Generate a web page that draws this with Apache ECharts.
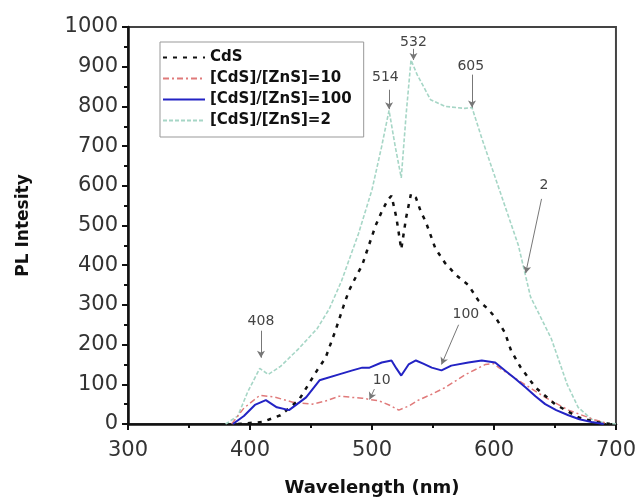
<!DOCTYPE html>
<html><head><meta charset="utf-8">
<script src="https://cdn.jsdelivr.net/npm/echarts@6/dist/echarts.min.js"></script>
<style>html,body{margin:0;padding:0;background:#fff}#c{width:639px;height:502px}</style>
</head><body><div id="c"></div>
<script>
// ---- data ----
const cdsX = [390,410,425,440,455,462,470,477,481,487,492,496,503,508,513,516,520,524,528,532,536,540,544,552,560,569,579,587,595,602,609,614,622,634,650,669,683,695];
const cdsY = [0,5,22,60,135,167,235,300,335,372,400,437,500,535,565,575,520,440,520,580,570,535,510,442,405,375,350,312,290,265,230,185,142,92,50,17,5,0];
const r10X = [385,395,408,420,435,451,462,473,484,492,506,514,522,530,538,549,560,577,593,600,604,620,642,661,683,695];
const r10Y = [0,40,72,68,55,50,58,70,67,65,58,48,35,45,60,75,92,125,150,152,142,110,67,35,10,0];
const r100X = [386,395,404,413,422,432,446,457,473,484,492,498,508,516,520,524,530,536,542,549,557,565,579,590,601,609,617,626,634,642,651,661,670,680,690];
const r100Y = [0,20,48,60,42,35,67,110,125,135,142,142,155,160,140,122,150,160,152,142,135,147,155,160,155,135,115,92,70,50,35,22,12,5,0];
const r2X = [380,390,398,408,415,425,440,455,465,475,489,500,508,514,519,524,528,532,537,548,560,576,582,590,600,610,620,630,647,660,669,680,690,700];
const r2Y = [0,20,80,140,125,145,190,240,290,360,480,590,700,790,700,620,780,917,880,817,800,795,797,720,630,540,450,320,215,100,42,12,3,0];
const seriesNames = ['CdS','[CdS]/[ZnS]=10','[CdS]/[ZnS]=100','[CdS]/[ZnS]=2'];
// annotations: text, text position, arrow start, arrow end (data units)
const noteText = ['408','514','532','605','2','100','10'];
const noteTextPos = [[409,258],[511,872],[534,962],[581,900],[641,600],[577,275],[508,110]];
const noteFrom = [[409,235],[514,842],[534,945],[582,880],[639,567],[571,250],[502,88]];
const noteTo = [[409,167],[514,793],[534,917],[582,797],[626,380],[557,150],[498,62]];

const zip = (xs, ys) => xs.map((x, i) => [x, ys[i]]);
const chart = echarts.init(document.getElementById('c'));
const tickFont = {fontFamily:'DejaVu Sans', fontSize:21, color:'#333'};
chart.setOption({
  animation:false,
  backgroundColor:'#fff',
  grid:{left:128, top:27, width:490, height:400, show:true, borderColor:'#444', borderWidth:2},
  legend:{
    data:seriesNames, orient:'vertical', left:160, top:42,
    itemWidth:42, itemHeight:10, itemGap:6,
    padding:[8,12,9,2], borderColor:'#999', borderWidth:1,
    itemStyle:{opacity:0},
    textStyle:{fontFamily:'DejaVu Sans', fontWeight:'bold', fontSize:15, color:'#111'}
  },
  xAxis:{
    type:'value', min:300, max:700, interval:100,
    name:'Wavelength (nm)', nameLocation:'middle', nameGap:55,
    nameTextStyle:{fontFamily:'DejaVu Sans', fontWeight:'bold', fontSize:18, color:'#111'},
    axisLine:{lineStyle:{color:'#111', width:2.5}},
    axisTick:{inside:false, length:6, lineStyle:{color:'#111', width:2}},
    minorTick:{show:true, splitNumber:2, length:4, lineStyle:{color:'#111', width:2}},
    axisLabel:Object.assign({margin:16, formatter:v=>String(v)}, tickFont),
    splitLine:{show:false}
  },
  yAxis:{
    type:'value', min:0, max:1000, interval:100,
    name:'PL Intesity', nameLocation:'middle', nameGap:96,
    nameTextStyle:{fontFamily:'DejaVu Sans', fontWeight:'bold', fontSize:17, color:'#111'},
    axisLine:{show:true, lineStyle:{color:'#111', width:2.5}},
    axisTick:{show:true, inside:false, length:6, lineStyle:{color:'#111', width:2}},
    minorTick:{show:true, splitNumber:2, length:4, lineStyle:{color:'#111', width:2}},
    axisLabel:Object.assign({margin:10, formatter:v=>String(v)}, tickFont),
    splitLine:{show:false}
  },
  series:[
    {name:seriesNames[3], type:'line', symbol:'none', data:zip(r2X, r2Y), z:2,
     lineStyle:{color:'#a6d6c6', width:1.6, type:[4,2]}, itemStyle:{color:'#a6d6c6'}},
    {name:seriesNames[1], type:'line', symbol:'none', data:zip(r10X, r10Y), z:3,
     lineStyle:{color:'#e07a7a', width:1.5, type:[6,3,2,3]}, itemStyle:{color:'#e07a7a'}},
    {name:seriesNames[0], type:'line', symbol:'none', data:zip(cdsX, cdsY), z:4,
     lineStyle:{color:'#111', width:2.5, type:[4,6]}, itemStyle:{color:'#111'}},
    {name:seriesNames[2], type:'line', symbol:'none', data:zip(r100X, r100Y), z:5,
     lineStyle:{color:'#2323c4', width:2}, itemStyle:{color:'#2323c4'}},
    {name:'notes', type:'scatter', data:[], z:6, silent:true,
     markLine:{silent:true, symbol:['none','arrow'], symbolSize:[6,7],
       lineStyle:{color:'#777', width:1, type:'solid'}, label:{show:false},
       data:noteFrom.map((f,i)=>[{coord:f},{coord:noteTo[i]}])},
     markPoint:{silent:true, symbol:'rect', symbolSize:0,
       label:{show:true, fontFamily:'DejaVu Sans', fontSize:14, color:'#444', position:'inside'},
       data:noteText.map((t,i)=>({coord:noteTextPos[i], value:t, label:{formatter:t}}))}
    }
  ]
});
</script></body></html>
